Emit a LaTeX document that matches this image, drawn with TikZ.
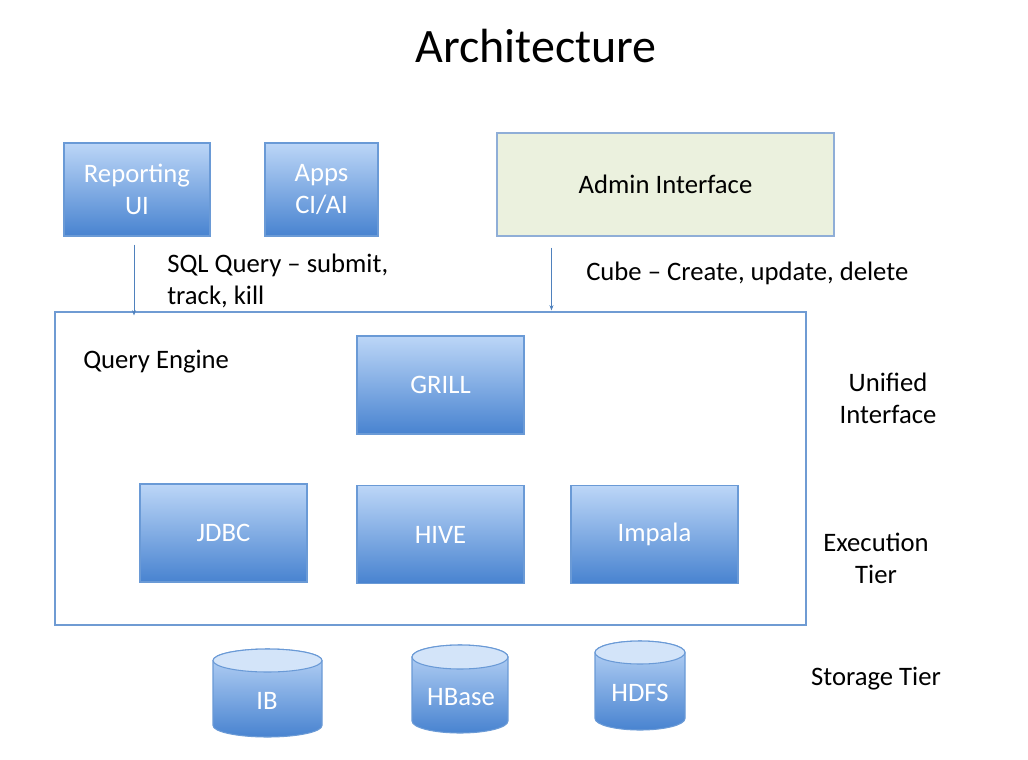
\documentclass[tikz,border=0pt]{standalone}
\usepackage{fontspec}
\setmainfont{Carlito}
\usepackage{tikz}
\usetikzlibrary{calc,arrows.meta}
\definecolor{boxtop}{HTML}{BCD6F7}
\definecolor{boxbot}{HTML}{4883D0}
\definecolor{boxline}{HTML}{6A9AD6}
\definecolor{capfill}{HTML}{D3E4F9}
\definecolor{admin}{HTML}{EBF1DE}
\definecolor{adminline}{HTML}{8FAED7}
\definecolor{frame}{HTML}{6F9BD3}
\definecolor{flow}{HTML}{4F81BD}
\tikzset{
  comp/.style={draw=boxline, line width=0.8pt, top color=boxtop, bottom color=boxbot,
    text=white, font=\fontsize{20}{24}\selectfont, align=center, inner sep=0pt},
  tier/.style={font=\fontsize{20}{24}\selectfont, align=center, inner sep=0pt},
  note/.style={font=\fontsize{20}{24}\selectfont, align=left, inner sep=0pt, anchor=west},
  flow/.style={draw=flow, line width=0.6pt, -{Stealth[length=4pt,width=3pt]}},
  db/.style={draw=boxline, line width=0.8pt, top color=boxtop, bottom color=boxbot},
  dbcap/.style={draw=boxline, line width=0.8pt, fill=capfill}
}
\begin{document}
\begin{tikzpicture}[x=0.75pt,y=-0.75pt]
\useasboundingbox (0,0) rectangle (1028,760);
\node[font=\fontsize{36}{44}\selectfont] (title) at (536,46) {Architecture};

% clients
\node[comp, minimum width=109.5pt, minimum height=69.75pt] (rep) at (137,189.5) {Reporting\\UI};
\node[comp, minimum width=84.75pt, minimum height=69.75pt] (apps) at (321.5,189.5) {Apps\\CI/AI};
\node[tier, draw=adminline, line width=0.8pt, fill=admin, minimum width=252.75pt, minimum height=77.25pt] (admin) at (665.5,184.5) {Admin Interface};

% query engine
\node[draw=frame, line width=0.8pt, minimum width=563.25pt, minimum height=234.75pt] (qe) at (430.5,468.5) {};
\node[note] (qelbl) at (83,362) {Query Engine};
\node[comp, minimum width=125.25pt, minimum height=73.5pt] (grill) at (440.5,385) {\raisebox{-1.5pt}{GRILL}};
\node[comp, minimum width=125.25pt, minimum height=73.5pt] (jdbc) at (223.5,533) {\raisebox{-1.5pt}{JDBC}};
\node[comp, minimum width=125.25pt, minimum height=73pt] (hive) at (440.5,534.5) {\raisebox{-1.5pt}{HIVE}};
\node[comp, minimum width=125.25pt, minimum height=73pt] (impala) at (654.5,534.5) {\raisebox{-1.5pt}{Impala}};

% requests
\draw[flow] ($(rep.south)+(-3,8)$) -- ($(rep.south |- qe.north)+(-3,4)$);
\node[note] (sqlq) at (167,281) {SQL Query -- submit,\\track, kill};
\draw[flow] ($(admin.south west)+(55,11)$) -- ($(admin.south west |- qe.north)+(55,-1)$);
\node[note] (cube) at (586,273) {Cube -- Create, update, delete};

% tiers
\node[tier] (unified) at (888,398) {Unified\\Interface};
\node[tier] (exec) at (876,558) {Execution\\Tier};
\node[tier] (store) at (876,679) {Storage Tier};

% storage
\draw[db] (213,660.5) -- (213,725.5) arc[start angle=180, end angle=0, x radius=54.5, y radius=11.5] -- (322,660.5) arc[start angle=0, end angle=-180, x radius=54.5, y radius=11.5] -- cycle;
\draw[dbcap] (267.5,660.5) ellipse[x radius=54.5, y radius=11.5];
\node[tier, text=white] (ib) at (267,701) {IB};

\draw[db] (412,657) -- (412,721) arc[start angle=180, end angle=0, x radius=48, y radius=12] -- (508,657) arc[start angle=0, end angle=-180, x radius=48, y radius=12] -- cycle;
\draw[dbcap] (460,657) ellipse[x radius=48, y radius=12];
\node[tier, text=white] (hbase) at (461,697) {HBase};

\draw[db] (595,652.5) -- (595,718.5) arc[start angle=180, end angle=0, x radius=45, y radius=11.5] -- (685,652.5) arc[start angle=0, end angle=-180, x radius=45, y radius=11.5] -- cycle;
\draw[dbcap] (640,652.5) ellipse[x radius=45, y radius=11.5];
\node[tier, text=white] (hdfs) at (640,693) {HDFS};
\end{tikzpicture}
\end{document}
